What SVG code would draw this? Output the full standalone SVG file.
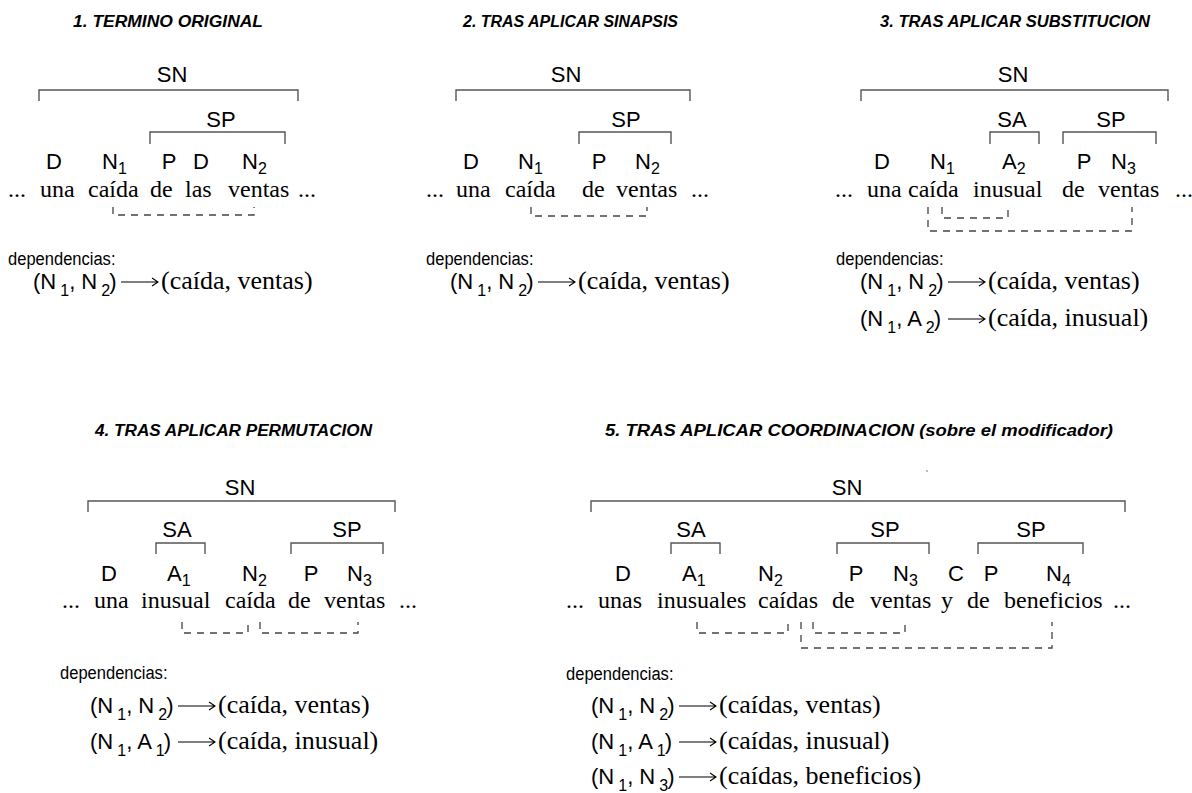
<svg xmlns="http://www.w3.org/2000/svg" width="1192" height="793" viewBox="0 0 1192 793">
<style>
.t{font-family:"Liberation Sans",Arial,sans-serif;font-weight:bold;font-style:italic;font-size:16px;fill:#000}
.lab{font-family:"Liberation Sans",Arial,sans-serif;font-size:22px;fill:#000}
.mid{text-anchor:middle}
.w{font-family:"Liberation Serif","Times New Roman",serif;font-size:24px;fill:#000}
.dh{font-family:"Liberation Sans",Arial,sans-serif;font-size:19px;fill:#000}
.ds{font-family:"Liberation Sans",Arial,sans-serif;font-size:22px;fill:#000}
.dw{font-family:"Liberation Serif","Times New Roman",serif;font-size:26px;fill:#000}
.br{fill:none;stroke:#555;stroke-width:1.4}
.dash{fill:none;stroke:#444;stroke-width:1.3;stroke-dasharray:7 6}
.arr{fill:none;stroke:#000;stroke-width:1.1}
</style>
<defs>
<g id="arrow"><path class="arr" d="M88,-7 H125 M119,-11 L125,-7 L119,-3"/></g>
</defs>
<rect width="1192" height="793" fill="#fff"/>

<!-- Panel 1 -->
<g id="p1">
<text class="t" x="73" y="27" textLength="190" lengthAdjust="spacingAndGlyphs">1. TERMINO ORIGINAL</text>
<g id="p1-sn"><path class="br" d="M39,101 V90 H298 V101"/><text class="lab mid" x="172" y="82">SN</text></g>
<g id="p1-sp"><path class="br" d="M150,144 V132 H285 V144"/><text class="lab mid" x="221" y="127">SP</text></g>
<g id="p1-labels" class="lab">
<text class="mid" x="54" y="169">D</text>
<text x="102" y="169">N<tspan font-size="16" dy="5">1</tspan></text>
<text class="mid" x="169" y="169">P</text>
<text class="mid" x="201" y="169">D</text>
<text x="242" y="169">N<tspan font-size="16" dy="5">2</tspan></text>
</g>
<g id="p1-words" class="w">
<text x="8" y="197">...</text><text x="40" y="197">una</text><text x="88" y="197">caída</text><text x="150" y="197">de</text><text x="185" y="197">las</text><text x="228" y="197">ventas</text><text x="298" y="197">...</text>
</g>
<g id="p1-deps">
<text class="dh" transform="translate(8,265) scale(0.87,1)">dependencias:</text>
<g transform="translate(33,289)"><text class="ds">(N<tspan font-size="16" dx="4" dy="7">1</tspan><tspan dy="-7">, N</tspan><tspan font-size="16" dx="4" dy="7">2</tspan><tspan dx="-1" dy="-7">)</tspan></text><use href="#arrow"/><text class="dw" x="128">(caída, ventas)</text></g>
</g>
</g>

<!-- Panel 2 -->
<g id="p2">
<text class="t" x="463" y="27" textLength="215" lengthAdjust="spacingAndGlyphs">2. TRAS APLICAR SINAPSIS</text>
<g id="p2-sn"><path class="br" d="M456,101 V90 H690 V101"/><text class="lab mid" x="566" y="82">SN</text></g>
<g id="p2-sp"><path class="br" d="M579,144 V132 H671 V144"/><text class="lab mid" x="626" y="127">SP</text></g>
<g id="p2-labels" class="lab">
<text class="mid" x="471" y="169">D</text>
<text x="518" y="169">N<tspan font-size="16" dy="5">1</tspan></text>
<text class="mid" x="599" y="169">P</text>
<text x="635" y="169">N<tspan font-size="16" dy="5">2</tspan></text>
</g>
<g id="p2-words" class="w">
<text x="426" y="197">...</text><text x="456" y="197">una</text><text x="505" y="197">caída</text><text x="582" y="197">de</text><text x="616" y="197">ventas</text><text x="691" y="197">...</text>
</g>
<g id="p2-deps">
<text class="dh" transform="translate(426,265) scale(0.87,1)">dependencias:</text>
<g transform="translate(450,289)"><text class="ds">(N<tspan font-size="16" dx="4" dy="7">1</tspan><tspan dy="-7">, N</tspan><tspan font-size="16" dx="4" dy="7">2</tspan><tspan dx="-1" dy="-7">)</tspan></text><use href="#arrow"/><text class="dw" x="128">(caída, ventas)</text></g>
</g>
</g>

<!-- Panel 3 -->
<g id="p3">
<text class="t" x="880" y="27" textLength="270" lengthAdjust="spacingAndGlyphs">3. TRAS APLICAR SUBSTITUCION</text>
<g id="p3-sn"><path class="br" d="M861,101 V90 H1168 V101"/><text class="lab mid" x="1013" y="82">SN</text></g>
<g id="p3-sa"><path class="br" d="M990,144 V132 H1039 V144"/><text class="lab mid" x="1012" y="127">SA</text></g>
<g id="p3-sp"><path class="br" d="M1063,144 V132 H1156 V144"/><text class="lab mid" x="1111" y="127">SP</text></g>
<g id="p3-labels" class="lab">
<text class="mid" x="882" y="169">D</text>
<text x="930" y="169">N<tspan font-size="16" dy="5">1</tspan></text>
<text x="1002" y="169">A<tspan font-size="16" dy="5">2</tspan></text>
<text class="mid" x="1084" y="169">P</text>
<text x="1111" y="169">N<tspan font-size="16" dy="5">3</tspan></text>
</g>
<g id="p3-words" class="w">
<text x="835" y="197">...</text><text x="867" y="197">una</text><text x="908" y="197">caída</text><text x="973" y="197">inusual</text><text x="1062" y="197">de</text><text x="1098" y="197">ventas</text><text x="1175" y="197">...</text>
</g>
<g id="p3-deps">
<text class="dh" transform="translate(836,265) scale(0.87,1)">dependencias:</text>
<g transform="translate(860,289)"><text class="ds">(N<tspan font-size="16" dx="4" dy="7">1</tspan><tspan dy="-7">, N</tspan><tspan font-size="16" dx="4" dy="7">2</tspan><tspan dx="-1" dy="-7">)</tspan></text><use href="#arrow"/><text class="dw" x="128">(caída, ventas)</text></g>
<g transform="translate(860,326)"><text class="ds">(N<tspan font-size="16" dx="4" dy="7">1</tspan><tspan dy="-7">, A</tspan><tspan font-size="16" dx="4" dy="7">2</tspan><tspan dx="-1" dy="-7">)</tspan></text><use href="#arrow"/><text class="dw" x="128">(caída, inusual)</text></g>
</g>
</g>

<!-- Panel 4 -->
<g id="p4">
<text class="t" x="95" y="436" textLength="277" lengthAdjust="spacingAndGlyphs">4. TRAS APLICAR PERMUTACION</text>
<g id="p4-sn"><path class="br" d="M88,512 V501 H395 V512"/><text class="lab mid" x="240" y="495">SN</text></g>
<g id="p4-sa"><path class="br" d="M156,554 V543 H205 V554"/><text class="lab mid" x="177" y="537">SA</text></g>
<g id="p4-sp"><path class="br" d="M291,554 V543 H383 V554"/><text class="lab mid" x="347" y="537">SP</text></g>
<g id="p4-labels" class="lab">
<text class="mid" x="109" y="581">D</text>
<text x="167" y="581">A<tspan font-size="16" dy="5">1</tspan></text>
<text x="242" y="581">N<tspan font-size="16" dy="5">2</tspan></text>
<text class="mid" x="311" y="581">P</text>
<text x="347" y="581">N<tspan font-size="16" dy="5">3</tspan></text>
</g>
<g id="p4-words" class="w">
<text x="62" y="608">...</text><text x="94" y="608">una</text><text x="141" y="608">inusual</text><text x="225" y="608">caída</text><text x="288" y="608">de</text><text x="324" y="608">ventas</text><text x="399" y="608">...</text>
</g>
<g id="p4-deps">
<text class="dh" transform="translate(60,679) scale(0.87,1)">dependencias:</text>
<g transform="translate(90,713)"><text class="ds">(N<tspan font-size="16" dx="4" dy="7">1</tspan><tspan dy="-7">, N</tspan><tspan font-size="16" dx="4" dy="7">2</tspan><tspan dx="-1" dy="-7">)</tspan></text><use href="#arrow"/><text class="dw" x="128">(caída, ventas)</text></g>
<g transform="translate(90,749)"><text class="ds">(N<tspan font-size="16" dx="4" dy="7">1</tspan><tspan dy="-7">, A</tspan><tspan font-size="16" dx="4" dy="7">1</tspan><tspan dx="-1" dy="-7">)</tspan></text><use href="#arrow"/><text class="dw" x="128">(caída, inusual)</text></g>
</g>
</g>

<!-- Panel 5 -->
<g id="p5">
<text class="t" x="605" y="436" textLength="508" lengthAdjust="spacingAndGlyphs">5. TRAS APLICAR COORDINACION (sobre el modificador)</text>
<g id="p5-sn"><path class="br" d="M591,512 V501 H1125 V512"/><text class="lab mid" x="847" y="495">SN</text></g>
<g id="p5-sa"><path class="br" d="M671,554 V543 H720 V554"/><text class="lab mid" x="691" y="537">SA</text></g>
<g id="p5-sp1"><path class="br" d="M837,554 V543 H929 V554"/><text class="lab mid" x="885" y="537">SP</text></g>
<g id="p5-sp2"><path class="br" d="M978,554 V543 H1083 V554"/><text class="lab mid" x="1031" y="537">SP</text></g>
<g id="p5-labels" class="lab">
<text class="mid" x="623" y="581">D</text>
<text x="682" y="581">A<tspan font-size="16" dy="5">1</tspan></text>
<text x="758" y="581">N<tspan font-size="16" dy="5">2</tspan></text>
<text class="mid" x="856" y="581">P</text>
<text x="893" y="581">N<tspan font-size="16" dy="5">3</tspan></text>
<text class="mid" x="956" y="581">C</text>
<text class="mid" x="991" y="581">P</text>
<text x="1046" y="581">N<tspan font-size="16" dy="5">4</tspan></text>
</g>
<g id="p5-words" class="w">
<text x="566" y="608">...</text><text x="598" y="608">unas</text><text x="657" y="608">inusuales</text><text x="758" y="608">caídas</text><text x="832" y="608">de</text><text x="870" y="608">ventas</text><text x="941" y="608">y</text><text x="967" y="608">de</text><text x="1004" y="608">beneficios</text><text x="1113" y="608">...</text>
</g>
<circle cx="927" cy="471" r="0.8" fill="#666"/>
<g id="p5-deps">
<text class="dh" transform="translate(566,680) scale(0.87,1)">dependencias:</text>
<g transform="translate(591,713)"><text class="ds">(N<tspan font-size="16" dx="4" dy="7">1</tspan><tspan dy="-7">, N</tspan><tspan font-size="16" dx="4" dy="7">2</tspan><tspan dx="-1" dy="-7">)</tspan></text><use href="#arrow"/><text class="dw" x="128">(caídas, ventas)</text></g>
<g transform="translate(591,749)"><text class="ds">(N<tspan font-size="16" dx="4" dy="7">1</tspan><tspan dy="-7">, A</tspan><tspan font-size="16" dx="4" dy="7">1</tspan><tspan dx="-1" dy="-7">)</tspan></text><use href="#arrow"/><text class="dw" x="128">(caídas, inusual)</text></g>
<g transform="translate(591,784)"><text class="ds">(N<tspan font-size="16" dx="4" dy="7">1</tspan><tspan dy="-7">, N</tspan><tspan font-size="16" dx="4" dy="7">3</tspan><tspan dx="-1" dy="-7">)</tspan></text><use href="#arrow"/><text class="dw" x="128">(caídas, beneficios)</text></g>
</g>
</g>

<g id="connectors">
<path class="dash" d="M113,207 V215 H254 V207"/>
<path class="dash" d="M531,207 V216 H647 V207"/>
<path class="dash" d="M942,207 V218 H1008 V207"/>
<path class="dash" d="M928,207 V231 H1132 V207"/>
<path class="dash" d="M182,622 V633 H248 V622"/>
<path class="dash" d="M260,622 V633 H358 V622"/>
<path class="dash" d="M697,622 V633 H788 V622"/>
<path class="dash" d="M813,622 V633 H905 V622"/>
<path class="dash" d="M801,622 V648 H1052 V622"/>
</g>
</svg>
